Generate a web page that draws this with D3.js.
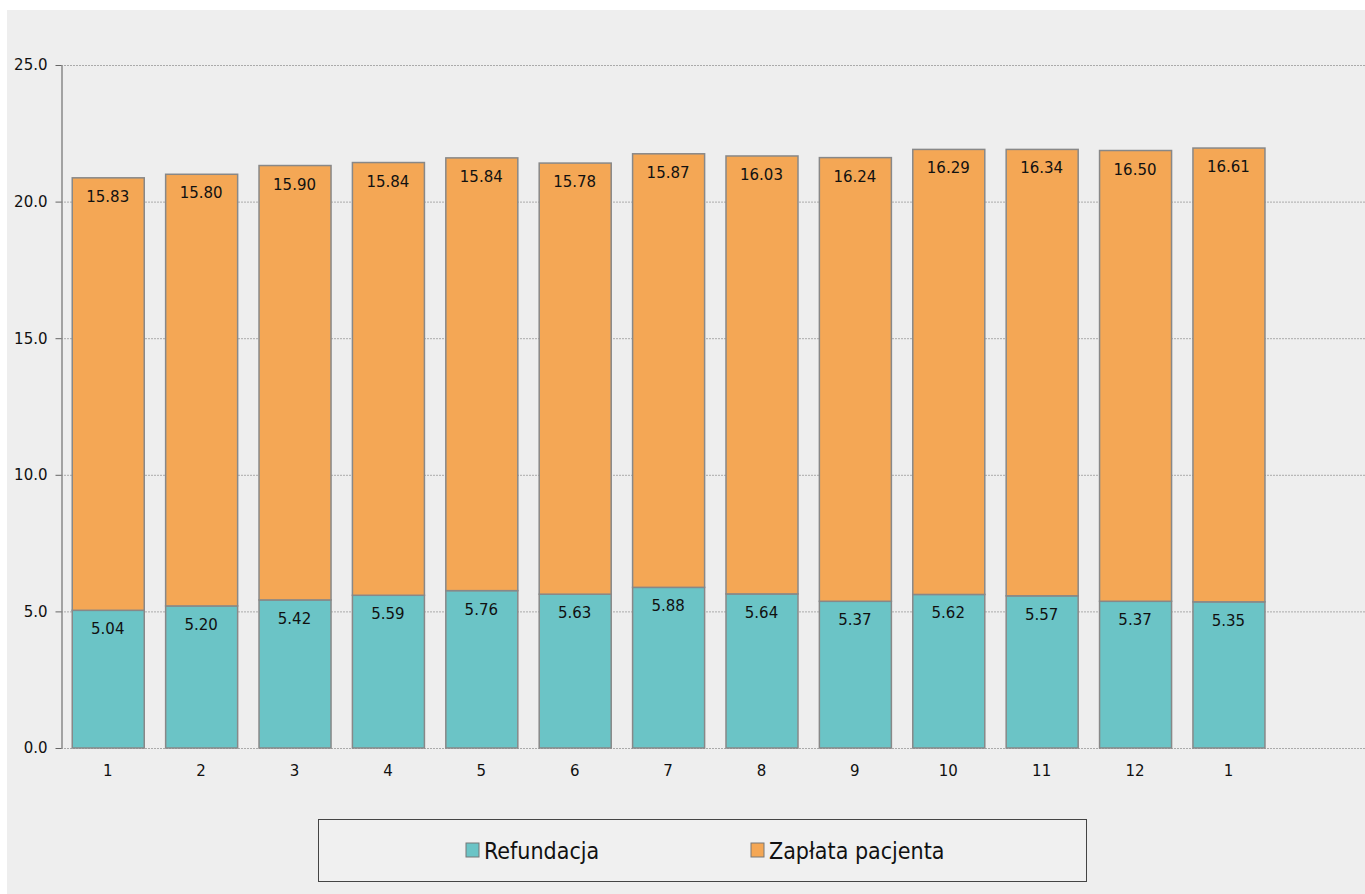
<!DOCTYPE html>
<html>
<head>
<meta charset="utf-8">
<script src="https://cdn.jsdelivr.net/npm/d3@7"></script>
<style>
  body { margin: 0; background: #fff; }
  svg { display: block; font-family: "DejaVu Sans", Verdana, sans-serif; }
</style>
</head>
<body>
<svg id="chart" width="1365" height="894"></svg>
<script>
// month labels (last one is January of the next year)
const months = ["1","2","3","4","5","6","7","8","9","10","11","12","1"];
const refundacja = [5.04,5.20,5.42,5.59,5.76,5.63,5.88,5.64,5.37,5.62,5.57,5.37,5.35];
const zaplata = [15.83,15.80,15.90,15.84,15.84,15.78,15.87,16.03,16.24,16.29,16.34,16.50,16.61];
const seriesNames = ["Refundacja","Zapłata pacjenta"];
const yTicks = [0,5,10,15,20,25];

const colors = ["#6bc4c6","#f4a755"];

var svg = d3.select("#chart");
const margin = {top: 65, left: 61, bottom: 146};
const plotRight = 1365;
const height = 894 - margin.top - margin.bottom;

svg.append("rect")
  .attr("x",7).attr("y",10).attr("width",1358).attr("height",884)
  .attr("fill","#eeeeee");

var rows = months.map(function(m,i){
  return {key: i, label: m, Refundacja: refundacja[i], "Zapłata pacjenta": zaplata[i]};
});
var stacked = d3.stack().keys(seriesNames)(rows);

var x = d3.scaleBand()
  .domain(d3.range(months.length))
  .range([margin.left, margin.left + 93.4*months.length])
  .paddingInner(0.229).paddingOuter(0.115);
var y = d3.scaleLinear().domain([0,25]).range([margin.top+height, margin.top]);

// grid
svg.append("g").selectAll("line").data(yTicks).join("line")
  .attr("x1", margin.left).attr("x2", plotRight)
  .attr("y1", d=>y(d)+0.5).attr("y2", d=>y(d)+0.5)
  .attr("stroke","#aaaaaa").attr("stroke-width",1)
  .attr("stroke-dasharray","2,1");

// y axis
var yAxis = svg.append("g")
  .attr("transform","translate("+(margin.left+0.5)+",0)")
  .call(d3.axisLeft(y).tickValues(yTicks).tickFormat(d3.format(".1f")).tickSize(6).tickSizeOuter(0));
yAxis.select(".domain").attr("stroke","#888888").attr("stroke-width",1.5);
yAxis.selectAll(".tick line").attr("stroke","#666666");
yAxis.selectAll("text").attr("font-size",15).attr("fill","#111").attr("x",-14)
  .attr("font-family","DejaVu Sans, sans-serif");

// bars
var layers = svg.append("g").selectAll("g").data(stacked).join("g")
  .attr("fill",(d,i)=>colors[i]);
layers.selectAll("rect").data(d=>d).join("rect")
  .attr("x",(d,i)=>x(i)+0.5)
  .attr("y",d=>y(d[1]))
  .attr("width",x.bandwidth())
  .attr("height",d=>y(d[0])-y(d[1]))
  .attr("stroke","#888888").attr("stroke-width",1.5);

// value labels
layers.selectAll("text").data(d=>d).join("text")
  .attr("x",(d,i)=>x(i)+x.bandwidth()/2)
  .attr("y",d=>y(d[1])+24)
  .attr("text-anchor","middle")
  .attr("font-size",15).attr("fill","#111")
  .text(d=>(d[1]-d[0]).toFixed(2));

// x labels
svg.append("g").selectAll("text").data(months).join("text")
  .attr("x",(d,i)=>x(i)+x.bandwidth()/2)
  .attr("y",776)
  .attr("text-anchor","middle")
  .attr("font-size",15).attr("fill","#111")
  .text(d=>d);

// legend
var legend = svg.append("g");
legend.append("rect")
  .attr("x",318.5).attr("y",819.5).attr("width",768).attr("height",62)
  .attr("fill","#f0f0f0").attr("stroke","#444").attr("stroke-width",1);
var legendX = [466, 751];
var items = legend.selectAll("g").data(seriesNames).join("g")
  .attr("transform",(d,i)=>"translate("+legendX[i]+",0)");
items.append("rect")
  .attr("x",0).attr("y",843).attr("width",13).attr("height",14)
  .attr("fill",(d,i)=>colors[i]).attr("stroke","#777").attr("stroke-width",1);
items.append("text")
  .attr("x",18).attr("y",859)
  .attr("font-size",23).attr("fill","#111")
  .attr("font-family","DejaVu Sans Condensed, DejaVu Sans, sans-serif")
  .text(d=>d);
</script>
</body>
</html>
